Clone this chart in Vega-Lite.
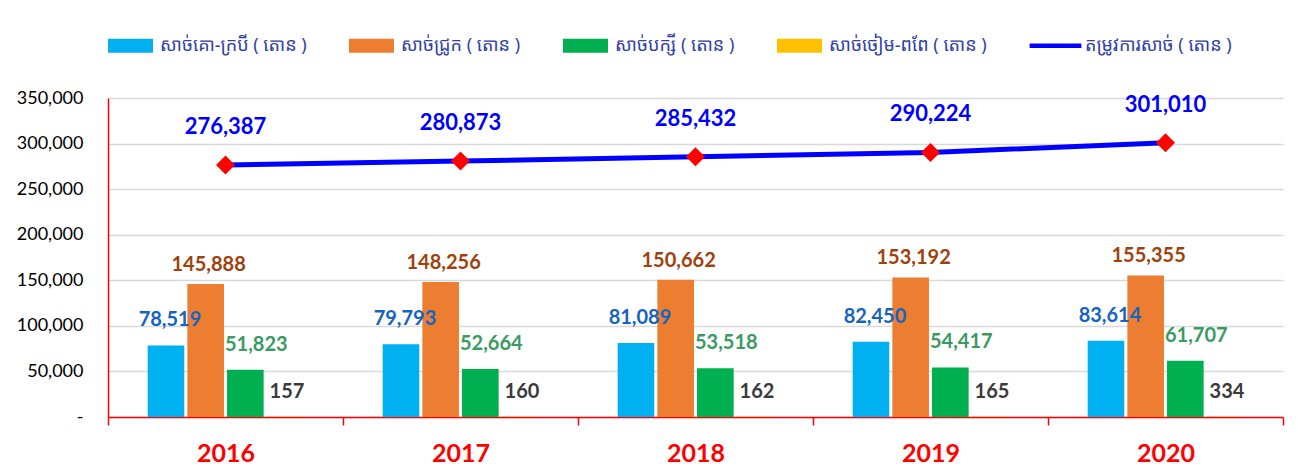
{
  "$schema": "https://vega.github.io/schema/vega-lite/v6.json",
  "width": 1175,
  "height": 319,
  "autosize": {"type": "none"},
  "padding": {"left": 108, "top": 98, "right": 15, "bottom": 56},
  "background": "white",
  "datasets": {
    "meat": [
      {"year": "2016", "type": "សាច់គោ-ក្របី ( តោន )", "value": 78519},
      {"year": "2016", "type": "សាច់ជ្រូក ( តោន )", "value": 145888},
      {"year": "2016", "type": "សាច់បក្សី ( តោន )", "value": 51823},
      {"year": "2016", "type": "សាច់ចៀម-ពពែ ( តោន )", "value": 157},
      {"year": "2017", "type": "សាច់គោ-ក្របី ( តោន )", "value": 79793},
      {"year": "2017", "type": "សាច់ជ្រូក ( តោន )", "value": 148256},
      {"year": "2017", "type": "សាច់បក្សី ( តោន )", "value": 52664},
      {"year": "2017", "type": "សាច់ចៀម-ពពែ ( តោន )", "value": 160},
      {"year": "2018", "type": "សាច់គោ-ក្របី ( តោន )", "value": 81089},
      {"year": "2018", "type": "សាច់ជ្រូក ( តោន )", "value": 150662},
      {"year": "2018", "type": "សាច់បក្សី ( តោន )", "value": 53518},
      {"year": "2018", "type": "សាច់ចៀម-ពពែ ( តោន )", "value": 162},
      {"year": "2019", "type": "សាច់គោ-ក្របី ( តោន )", "value": 82450},
      {"year": "2019", "type": "សាច់ជ្រូក ( តោន )", "value": 153192},
      {"year": "2019", "type": "សាច់បក្សី ( តោន )", "value": 54417},
      {"year": "2019", "type": "សាច់ចៀម-ពពែ ( តោន )", "value": 165},
      {"year": "2020", "type": "សាច់គោ-ក្របី ( តោន )", "value": 83614},
      {"year": "2020", "type": "សាច់ជ្រូក ( តោន )", "value": 155355},
      {"year": "2020", "type": "សាច់បក្សី ( តោន )", "value": 61707},
      {"year": "2020", "type": "សាច់ចៀម-ពពែ ( តោន )", "value": 334}
    ],
    "demand": [
      {"year": "2016", "value": 276387},
      {"year": "2017", "value": 280873},
      {"year": "2018", "value": 285432},
      {"year": "2019", "value": 290224},
      {"year": "2020", "value": 301010}
    ]
  },
  "encoding": {
    "x": {
      "field": "year", "type": "nominal",
      "scale": {"paddingInner": 0, "paddingOuter": 0},
      "axis": {
        "title": null, "labelAngle": 0, "tickBand": "extent", "ticks": true,
        "tickColor": "#ff0000", "tickSize": 8, "tickWidth": 1.5,
        "domainColor": "#ff0000", "domainWidth": 1.5,
        "labelColor": "#ff0000", "labelFontSize": 25, "labelFontWeight": "bold",
        "labelFont": "Lato", "labelPadding": 16, "grid": false
      }
    },
    "y": {
      "field": "value", "type": "quantitative",
      "scale": {"domain": [0, 350000], "nice": false},
      "axis": {
        "title": null,
        "values": [0, 50000, 100000, 150000, 200000, 250000, 300000, 350000],
        "labelExpr": "datum.value === 0 ? '-\u00a0\u00a0\u00a0' : format(datum.value, ',')",
        "grid": true, "gridColor": "#d9d9d9", "gridWidth": 1.5,
        "ticks": false, "domainColor": "#ff0000", "domainWidth": 1.5,
        "labelFontSize": 18, "labelColor": "#000000", "labelPadding": 25, "labelFont": "Lato"
      }
    }
  },
  "layer": [
    {
      "data": {"name": "meat"},
      "mark": {"type": "bar"},
      "encoding": {
        "xOffset": {
          "field": "type", "type": "nominal",
          "scale": {
            "domain": ["សាច់គោ-ក្របី ( តោន )", "សាច់ជ្រូក ( តោន )", "សាច់បក្សី ( តោន )", "សាច់ចៀម-ពពែ ( តោន )"],
            "paddingInner": 0.077, "paddingOuter": 1.05
          }
        },
        "color": {
          "field": "type", "type": "nominal",
          "scale": {
            "domain": ["សាច់គោ-ក្របី ( តោន )", "សាច់ជ្រូក ( តោន )", "សាច់បក្សី ( តោន )", "សាច់ចៀម-ពពែ ( តោន )", "តម្រូវការសាច់ ( តោន )"],
            "range": ["#00b0f0", "#ed7d31", "#00b050", "#ffc000", "#0000ff"]
          },
          "legend": {
            "title": null, "orient": "top", "direction": "horizontal",
            "symbolSize": 2025, "symbolStrokeWidth": 0,
            "labelFontSize": 18, "labelColor": "#3040a8",
            "labelFont": "Noto Sans Khmer, Khmer OS System, Noto Sans, sans-serif",
            "columnPadding": 42, "labelOffset": 7, "offset": 43, "labelLimit": 400,
            "encode": {
              "symbols": {
                "update": {
                  "shape": {"signal": "datum.value === 'តម្រូវការសាច់ ( តោន )' ? 'M-1.15,-0.1H1.15V0.1H-1.15Z' : 'M-1,-0.31H1V0.31H-1Z'"},
                  "strokeWidth": {"value": 0}
                }
              }
            }
          }
        }
      }
    },
    {
      "data": {"name": "meat"},
      "transform": [{"filter": "datum.type === 'សាច់គោ-ក្របី ( តោន )'"}],
      "mark": {"type": "text", "dy": -25, "dx": 4, "fontSize": 20, "fontWeight": "bold", "font": "Lato", "color": "#1565c0", "baseline": "middle"},
      "encoding": {"xOffset": {"field": "type", "type": "nominal"}, "text": {"field": "value", "type": "quantitative", "format": ","}}
    },
    {
      "data": {"name": "meat"},
      "transform": [{"filter": "datum.type === 'សាច់ជ្រូក ( តោន )'"}],
      "mark": {"type": "text", "dy": -19, "dx": 3, "fontSize": 20, "fontWeight": "bold", "font": "Lato", "color": "#a0410d", "baseline": "middle"},
      "encoding": {"xOffset": {"field": "type", "type": "nominal"}, "text": {"field": "value", "type": "quantitative", "format": ","}}
    },
    {
      "data": {"name": "meat"},
      "transform": [{"filter": "datum.type === 'សាច់បក្សី ( តោន )'"}],
      "mark": {"type": "text", "dy": -25, "dx": 11, "fontSize": 20, "fontWeight": "bold", "font": "Lato", "color": "#3a9a62", "baseline": "middle"},
      "encoding": {"xOffset": {"field": "type", "type": "nominal"}, "text": {"field": "value", "type": "quantitative", "format": ","}}
    },
    {
      "data": {"name": "meat"},
      "transform": [{"filter": "datum.type === 'សាច់ចៀម-ពពែ ( តោន )'"}],
      "mark": {"type": "text", "dy": -25, "dx": 2, "fontSize": 20, "fontWeight": "bold", "font": "Lato", "color": "#3a3a3a", "baseline": "middle"},
      "encoding": {"xOffset": {"field": "type", "type": "nominal"}, "text": {"field": "value", "type": "quantitative", "format": ","}}
    },
    {
      "data": {"name": "demand"},
      "mark": {"type": "line", "color": "#0000ff", "strokeWidth": 5},
      "encoding": {}
    },
    {
      "data": {"name": "demand"},
      "mark": {"type": "point", "shape": "diamond", "filled": true, "color": "#ff0000", "size": 360, "opacity": 1},
      "encoding": {}
    },
    {
      "data": {"name": "demand"},
      "mark": {"type": "text", "dy": -38, "fontSize": 22, "fontWeight": "bold", "font": "Lato", "color": "#0000ff", "baseline": "middle"},
      "encoding": {"text": {"field": "value", "type": "quantitative", "format": ","}}
    }
  ],
  "config": {
    "view": {"stroke": null}
  }
}
